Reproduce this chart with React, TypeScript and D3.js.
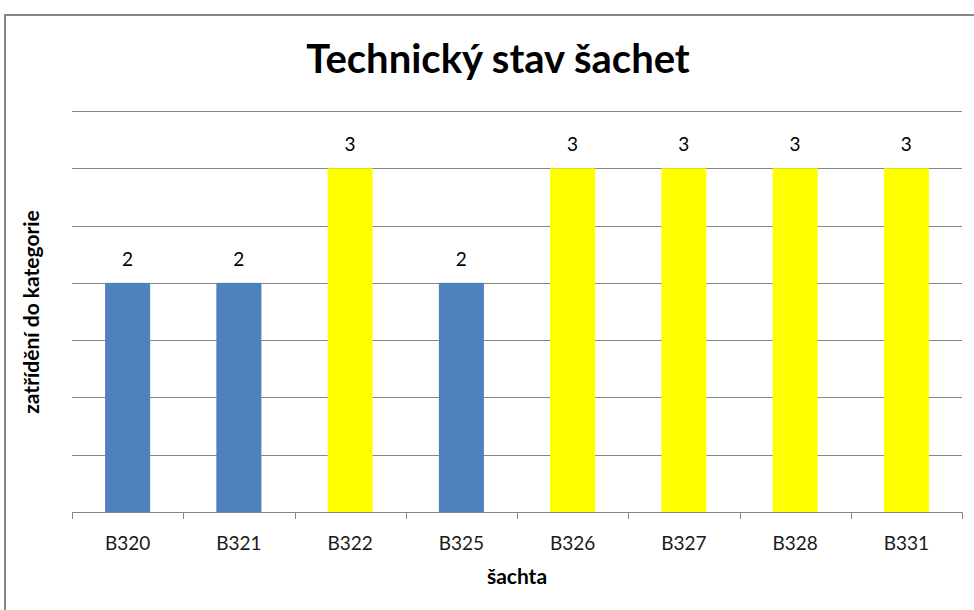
import * as d3 from "d3";

const shafts = ["B320", "B321", "B322", "B325", "B326", "B327", "B328", "B331"];
const category = [2, 2, 3, 2, 3, 3, 3, 3];
const gridTicks = [0.5, 1, 1.5, 2, 2.5, 3, 3.5];

const W = 974;
const H = 610;
const margin = { top: 111, right: 12, bottom: 98, left: 72 };
const FONT = "Lato, 'Open Sans', sans-serif";

const barColor = (v: number) => (v >= 3 ? "#FFFF00" : "#4F81BD");

const App = () => {
  const x = d3
    .scaleBand()
    .domain(shafts)
    .range([margin.left, W - margin.right])
    .paddingInner(0.595)
    .paddingOuter(0.2975);
  const y = d3
    .scaleLinear()
    .domain([0, 3.5])
    .range([H - margin.bottom, margin.top]);

  // category boundaries for tick marks
  const step = x.step();
  const x0 = margin.left;
  const bounds = d3.range(shafts.length + 1).map((i) => x0 + i * step);

  return (
    <svg
      width={W}
      height={H}
      style={{ position: "absolute", left: 0, top: 0, background: "#fff" }}
    >
      <rect x={5} y={15} width={W + 10} height={H + 10} fill="#fff" stroke="#868686" strokeWidth={2} />
      <text x={498} y={73} textAnchor="middle" fontFamily={FONT} fontWeight="bold" fontSize={40} fill="#000">
        Technický stav šachet
      </text>
      {gridTicks.map((t) => (
        <line key={t} x1={x0} x2={W - margin.right} y1={Math.round(y(t)) + 0.5} y2={Math.round(y(t)) + 0.5} stroke="#868686" strokeWidth={1} />
      ))}
      {shafts.map((s, i) => (
        <rect key={s} x={x(s)} y={y(category[i])} width={x.bandwidth()} height={y(0) - y(category[i])} fill={barColor(category[i])} />
      ))}
      {shafts.map((s, i) => (
        <text key={s} x={(x(s) ?? 0) + x.bandwidth() / 2} y={y(category[i]) - 17} textAnchor="middle" fontFamily={FONT} fontSize={19} fill="#000">
          {category[i]}
        </text>
      ))}
      <line x1={x0} x2={W - margin.right} y1={y(0) + 0.5} y2={y(0) + 0.5} stroke="#868686" strokeWidth={1} />
      {bounds.map((b, i) => (
        <line key={i} x1={Math.round(b) + 0.5} x2={Math.round(b) + 0.5} y1={y(0)} y2={y(0) + 7} stroke="#868686" strokeWidth={1} />
      ))}
      {shafts.map((s) => (
        <text key={s} x={(x(s) ?? 0) + x.bandwidth() / 2} y={550} textAnchor="middle" fontFamily={FONT} fontSize={19} fill="#1a1a1a">
          {s}
        </text>
      ))}
      <text x={517} y={584} textAnchor="middle" fontFamily={FONT} fontWeight="bold" fontSize={21} fill="#000">
        šachta
      </text>
      <text transform="translate(39,312) rotate(-90)" textAnchor="middle" fontFamily={FONT} fontWeight="bold" fontSize={21} fill="#000">
        zatřídění do kategorie
      </text>
    </svg>
  );
};

export default App;
